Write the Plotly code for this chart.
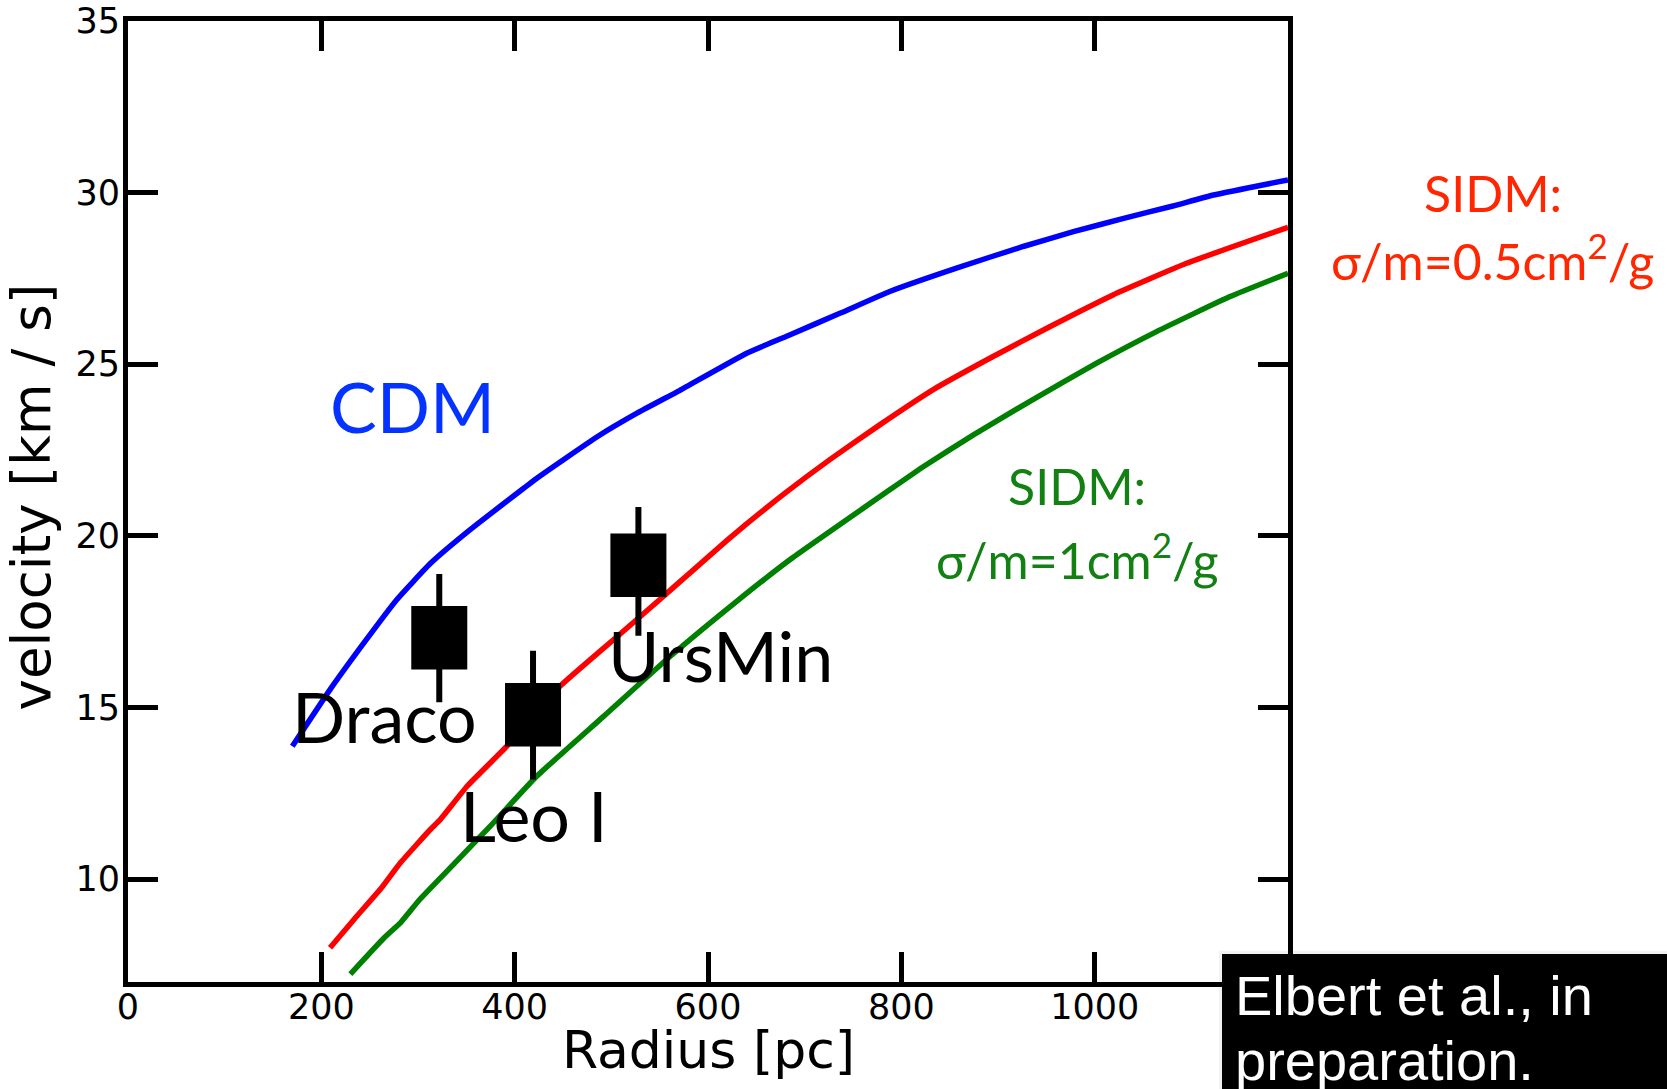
import plotly.graph_objects as go

# ---- data ----
cdm_r = [170, 209, 244, 278, 313, 354, 410, 423, 485, 527, 571, 640, 685, 737, 788, 857, 926, 978, 1030, 1081, 1123, 1200]
cdm_v = [13.87, 15.52, 16.88, 18.14, 19.20, 20.18, 21.40, 21.68, 22.88, 23.58, 24.24, 25.32, 25.86, 26.49, 27.12, 27.80, 28.43, 28.86, 29.25, 29.61, 29.93, 30.37]

sidm05_r = [209, 234, 261, 282, 313, 323, 351, 392, 447, 510, 554, 623, 680, 726, 778, 833, 892, 954, 1019, 1095, 1200]
sidm05_v = [8.00, 8.83, 9.70, 10.48, 11.45, 11.73, 12.71, 13.87, 15.62, 17.16, 18.24, 19.95, 21.25, 22.22, 23.24, 24.26, 25.18, 26.10, 27.02, 27.94, 28.99]

sidm1_r = [230, 265, 282, 302, 340, 376, 423, 492, 561, 630, 685, 788, 823, 875, 933, 1002, 1064, 1140, 1200]
sidm1_v = [7.23, 8.29, 8.73, 9.41, 10.52, 11.58, 13.00, 14.74, 16.49, 18.10, 19.31, 21.34, 22.02, 22.95, 23.92, 25.03, 25.95, 26.97, 27.65]

galaxy_names = ["Draco", "Leo I", "UrsMin"]
galaxy_r = [322, 419, 528]
galaxy_v = [17.03, 14.79, 19.14]
galaxy_err_plus = [1.86, 1.86, 1.70]
galaxy_err_minus = [1.88, 1.89, 2.05]
label_r = [265, 420, 613]
label_v = [14.75, 11.87, 16.54]

x_ticks = [0, 200, 400, 600, 800, 1000]
y_ticks = [10, 15, 20, 25, 30, 35]

BOX_HALF = 0.925   # half height of the data boxes (velocity units)
LW = 5.5
SMOOTH = 0.4

fig = go.Figure()
fig.add_trace(go.Scatter(x=cdm_r, y=cdm_v, mode="lines",
                         line=dict(color="#0000ff", width=LW, shape="spline", smoothing=SMOOTH)))
fig.add_trace(go.Scatter(x=sidm05_r, y=sidm05_v, mode="lines",
                         line=dict(color="#ff0000", width=LW, shape="spline", smoothing=SMOOTH)))
fig.add_trace(go.Scatter(x=sidm1_r, y=sidm1_v, mode="lines",
                         line=dict(color="#008000", width=LW, shape="spline", smoothing=SMOOTH)))

# whiskers
fig.add_trace(go.Scatter(
    x=galaxy_r, y=galaxy_v, mode="markers", marker=dict(size=1, opacity=0),
    error_y=dict(type="data", symmetric=False, array=galaxy_err_plus, arrayminus=galaxy_err_minus,
                 thickness=6, width=0, color="black")))
# boxes (thick error-bar strokes give rectangles)
fig.add_trace(go.Scatter(
    x=galaxy_r, y=galaxy_v, mode="markers", marker=dict(size=1, opacity=0),
    error_y=dict(type="constant", value=BOX_HALF, thickness=56, width=0, color="black")))

GILL = "Lato, 'Open Sans', sans-serif"
ann = []
for name, lx, ly in zip(galaxy_names, label_r, label_v):
    ann.append(dict(x=lx, y=ly, xref="x", yref="y", text=name, showarrow=False,
                    xanchor="center", yanchor="middle", font=dict(family=GILL, size=70, color="black")))
ann.append(dict(x=294, y=23.77, xref="x", yref="y", text="CDM", showarrow=False,
                xanchor="center", yanchor="middle", font=dict(family=GILL, size=70, color="#0433ff")))
# green label (two lines)
ann.append(dict(x=982, y=21.45, xref="x", yref="y", text="SIDM:", showarrow=False,
                xanchor="center", yanchor="middle", font=dict(family=GILL, size=50, color="#138013")))
ann.append(dict(x=982, y=19.40, xref="x", yref="y", text="σ/m=1cm<sup>2</sup>/g", showarrow=False,
                xanchor="center", yanchor="middle", font=dict(family=GILL, size=50, color="#138013")))
# red label (outside the plot area, two lines)
ann.append(dict(x=1.1767, y=0.8213, xref="paper", yref="paper", text="SIDM:", showarrow=False,
                xanchor="center", yanchor="middle", font=dict(family=GILL, size=50, color="#ff2600")))
ann.append(dict(x=1.1767, y=0.7538, xref="paper", yref="paper", text="σ/m=0.5cm<sup>2</sup>/g", showarrow=False,
                xanchor="center", yanchor="middle", font=dict(family=GILL, size=50, color="#ff2600")))
# axis titles
ann.append(dict(x=0.5, y=-0.0708, xref="paper", yref="paper", text="Radius [pc]", showarrow=False,
                xanchor="center", yanchor="middle", font=dict(family="DejaVu Sans", size=52, color="black")))
ann.append(dict(x=-0.0824, y=0.5047, xref="paper", yref="paper", text="velocity [km / s]", showarrow=False,
                textangle=-90, xanchor="center", yanchor="middle",
                font=dict(family="DejaVu Sans", size=53, color="black")))
# black credit box text
ann.append(dict(x=0.953, y=-0.0144, xref="paper", yref="paper", text="Elbert et al., in", showarrow=False,
                xanchor="left", yanchor="middle", font=dict(family="Liberation Sans, Arial", size=56, color="white")))
ann.append(dict(x=0.953, y=-0.0822, xref="paper", yref="paper", text="preparation.", showarrow=False,
                xanchor="left", yanchor="middle", font=dict(family="Liberation Sans, Arial", size=56, color="white")))

shapes = [
    dict(type="rect", xref="paper", yref="paper", x0=0.9405, x1=1.5, y0=-0.2, y1=0.0325,
         fillcolor="rgba(0,0,0,0.05)", line=dict(width=0), layer="above"),
    dict(type="rect", xref="paper", yref="paper", x0=0.9431, x1=1.5, y0=-0.2, y1=0.0291,
         fillcolor="black", line=dict(width=0), layer="above"),
]

axis_common = dict(showline=True, linewidth=5, linecolor="black", mirror="ticks",
                   ticks="inside", ticklen=30, tickwidth=5, tickcolor="black",
                   showgrid=False, zeroline=False, automargin=False,
                   tickfont=dict(family="DejaVu Sans", size=35, color="black"))

fig.update_layout(
    width=1667, height=1089,
    margin=dict(l=127.5, r=379, t=21, b=107),
    plot_bgcolor="white", paper_bgcolor="white", showlegend=False,
    xaxis=dict(range=[0, 1200], tickvals=x_ticks, ticktext=[str(t) for t in x_ticks],
               ticklabelstandoff=-10, **axis_common),
    yaxis=dict(range=[7, 35], tickvals=y_ticks, ticktext=[str(t) for t in y_ticks],
               ticklabelstandoff=-4, **axis_common),
    annotations=ann, shapes=shapes,
)

fig.write_html("out.html")
